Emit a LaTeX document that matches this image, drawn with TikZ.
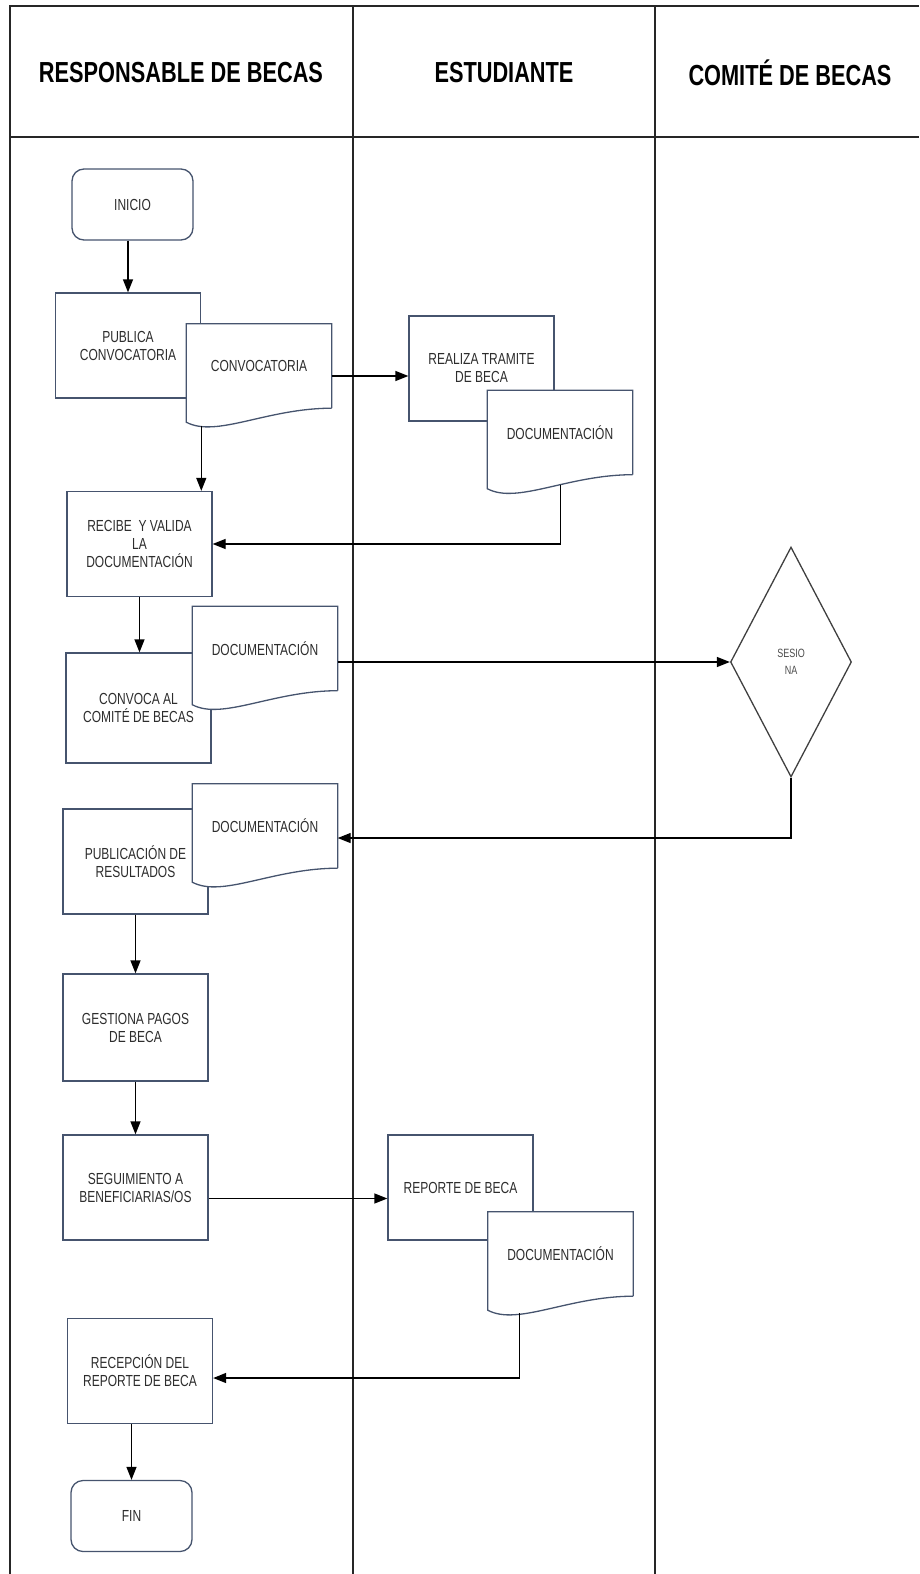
\documentclass[tikz,border=0pt]{standalone}
\usepackage{fontspec}
\setmainfont{Liberation Sans}
\newfontfamily\narrowfont{Liberation Sans}[FakeStretch=0.75]
\usetikzlibrary{shapes.geometric,arrows.meta,calc}
\definecolor{boxline}{RGB}{70,84,110}
\definecolor{txtgray}{RGB}{45,45,45}
\newcommand\wavy[1]{% wavy bottom of a document symbol
  \fill[white] (#1.south west) -- ++(0,14) .. controls +(30,16) and +(-65,0) .. (#1.south east) -- cycle;
  \draw[boxline, line width=1.3pt] (#1.south east) -- (#1.north east) -- (#1.north west) -- (#1.south west) -- ++(0,14) .. controls +(30,16) and +(-65,0) .. (#1.south east);
}

\begin{document}
\begin{tikzpicture}[x=1pt, y=-1pt,
  every node/.style={font=\narrowfont\fontsize{16}{18}\selectfont, text=txtgray, align=center},
  proc/.style={draw=boxline, line width=1.3pt, fill=white, minimum width=145pt, minimum height=105pt, inner sep=2pt},
  doc/.style={fill=white, minimum width=145pt, minimum height=84pt, inner sep=2pt},
  term/.style={draw=boxline, line width=1.3pt, fill=white, rounded corners=12pt, minimum width=121pt, minimum height=71pt},
  decide/.style={diamond, draw=black!75, line width=1.3pt, minimum width=121pt, minimum height=230pt, inner sep=0pt},
  lane/.style={black!85, line width=2pt},
  flow/.style={black, line width=1.3pt, -{Triangle[length=13pt,width=10pt]}},
  head/.style={font=\narrowfont\bfseries\fontsize{29}{34}\selectfont, text=black}]

\useasboundingbox (0,0) rectangle (919,1574);

% swimlanes
\draw[lane] (10,1574) -- (10,6) -- (919,6);
\draw[lane] (10,137) -- (919,137);
\draw[lane] (353,6) -- (353,1574);
\draw[lane] (655,6) -- (655,1574);

\node[head] (hresp) at (181,73) {RESPONSABLE DE BECAS};
\node[head] (hest) at (504,73) {ESTUDIANTE};
\node[head] (hcom) at (790,73) {COMITÉ DE BECAS};

% responsable de becas
\node[term] (inicio) at (132.5,204.5) {INICIO};
\node[proc] (pub) at (128,345.5) {PUBLICA\\CONVOCATORIA};
\node[doc] (conv) at (259,366) {CONVOCATORIA}; \wavy{conv}
\node[proc] (recibe) at (139.5,544) {RECIBE\ \ Y VALIDA\\LA\\DOCUMENTACIÓN};
\node[proc, minimum height=110pt] (convoca) at (138.5,708) {CONVOCA AL\\COMITÉ DE BECAS};
\node[doc] (doc2) at (265,648.5) {DOCUMENTACIÓN}; \wavy{doc2}
\node[proc] (publica) at (135.5,861.5) {PUBLICACIÓN DE\\RESULTADOS};
\node[doc] (doc3) at (265,826) {DOCUMENTACIÓN}; \wavy{doc3}
\node[proc, minimum height=107pt] (gestiona) at (135.5,1027.5) {GESTIONA PAGOS\\DE BECA};
\node[proc] (segui) at (135.5,1187.5) {SEGUIMIENTO A\\BENEFICIARIAS/OS};
\node[proc] (recep) at (140,1371) {RECEPCIÓN DEL\\REPORTE DE BECA};
\node[term] (fin) at (131.5,1516) {FIN};

% estudiante
\node[proc] (realiza) at (481.5,368.5) {REALIZA TRAMITE\\DE BECA};
\node[doc] (docA) at (560,432.5) {DOCUMENTACIÓN}; \wavy{docA}
\node[proc] (reporte) at (460.5,1187.5) {REPORTE DE BECA};
\node[doc] (doc4) at (560.5,1254) {DOCUMENTACIÓN}; \wavy{doc4}

% comite de becas
\node[decide, font=\narrowfont\fontsize{12}{17}\selectfont, text=black!70] (sesiona) at (791,662) {SESIO\\NA};

% flow
\coordinate (c1) at ([xshift=15pt,yshift=-18pt]conv.south west);
\draw[flow] (inicio.south -| pub) -- (pub.north);
\draw[flow] ([yshift=-10pt]conv.east) -- ([yshift=-10pt]conv.east -| realiza.west);
\draw[flow] (c1) -- (c1 |- recibe.north);
\draw[flow] ([xshift=73pt,yshift=-10pt]docA.south west) |- (recibe.east);
\draw[flow] (recibe.south) -- (recibe.south |- convoca.north);
\draw[flow] (doc2.east |- sesiona) -- (sesiona.west);
\draw[flow] (sesiona.south) |- ([yshift=-12pt]doc3.east);
\draw[flow] (publica) -- (gestiona);
\draw[flow] (gestiona) -- (segui);
\draw[flow] ([yshift=-11pt]segui.east) -- ([yshift=-11pt]segui.east -| reporte.west);
\draw[flow] ([xshift=32pt,yshift=-17pt]doc4.south west) |- ([yshift=-7pt]recep.east);
\draw[flow] (recep.south -| fin) -- (fin.north);
\end{tikzpicture}
\end{document}
